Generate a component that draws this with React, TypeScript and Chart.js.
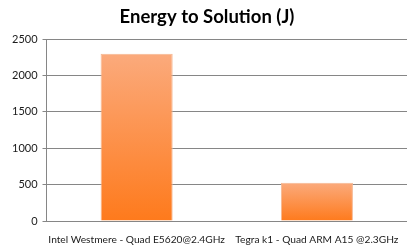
import React, { useEffect, useRef } from "react";
import { Chart, registerables } from "chart.js";

Chart.register(...registerables);

const categories = [
  "Intel Westmere - Quad E5620@2.4GHz",
  "Tegra k1 - Quad ARM A15 @2.3GHz",
];
const energyValues = [2300, 525];
const titleText = "Energy to Solution (J)";

export default function App() {
  const ref = useRef<HTMLCanvasElement>(null);
  useEffect(() => {
    document.body.style.margin = "0";
    const ctx = ref.current!.getContext("2d")!;
    const chart = new Chart(ctx, {
      type: "bar",
      data: {
        labels: categories,
        datasets: [
          {
            data: energyValues,
            backgroundColor: (c: any) => {
              const chart = c.chart;
              const y = chart.scales?.y;
              if (!y || c.parsed === undefined) return "#FD9550";
              const top = y.getPixelForValue(c.parsed.y);
              const bottom = y.getPixelForValue(0);
              if (!isFinite(top) || !isFinite(bottom)) return "#FD9550";
              const g = chart.ctx.createLinearGradient(0, top, 0, bottom);
              g.addColorStop(0, "#FBAA7C");
              g.addColorStop(1, "#FE7A1C");
              return g;
            },
            borderColor: "#F5B690",
            borderWidth: 1,
            categoryPercentage: 0.4,
            barPercentage: 1,
          },
        ],
      },
      options: {
        animation: false,
        responsive: false,
        maintainAspectRatio: false,
        layout: { padding: { left: 7, right: 0, top: 0, bottom: 0 } },
        plugins: {
          legend: { display: false },
          tooltip: { enabled: false },
          title: {
            display: true,
            text: titleText,
            color: "#000",
            font: { family: "Lato", size: 18.5, weight: "bold" },
            padding: { top: 6, bottom: 11 },
          },
        },
        scales: {
          x: {
            grid: { display: false },
            border: { display: true, color: "#868686", width: 1 },
            ticks: {
              color: "#1a1a1a",
              font: { family: "Lato", size: 10.2 },
              maxRotation: 0,
              minRotation: 0,
              autoSkip: false,
              padding: 5,
            },
            afterFit: (s: any) => {
              s.height = 24;
            },
          },
          y: {
            min: 0,
            max: 2500,
            ticks: {
              stepSize: 500,
              color: "#1a1a1a",
              font: { family: "Lato", size: 11 },
              padding: 5,
              callback: (v: any) => String(v),
            },
            grid: {
              color: "#868686",
              tickLength: 4,
              drawTicks: true,
            },
            border: { display: true, color: "#868686", width: 1 },
          },
        },
      },
    });
    return () => chart.destroy();
  }, []);
  return <canvas ref={ref} width={407} height={245} style={{ display: "block" }} />;
}
